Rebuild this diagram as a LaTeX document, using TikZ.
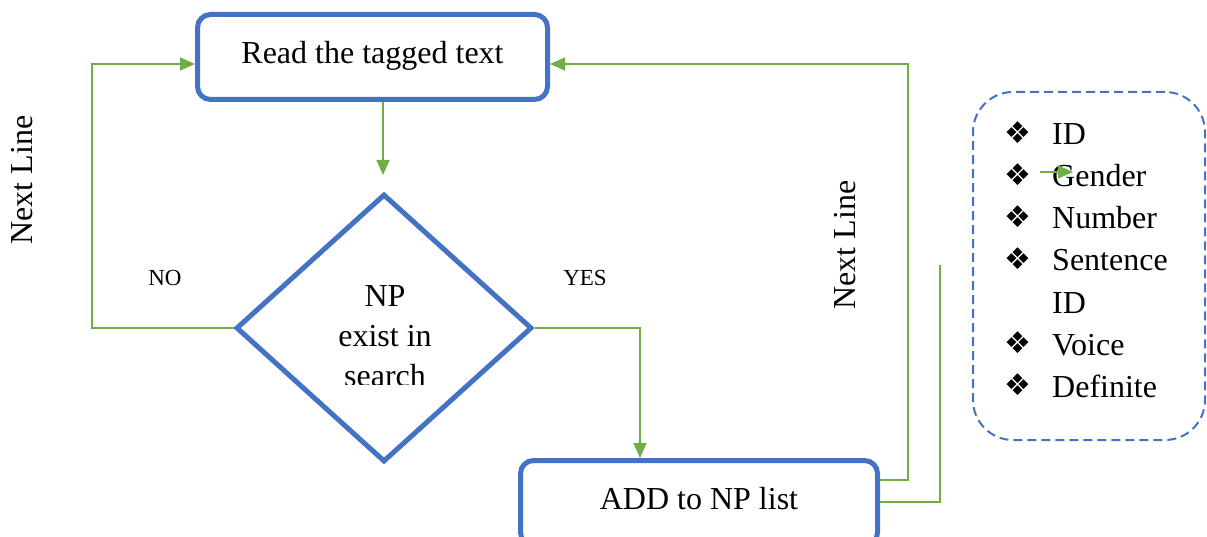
\documentclass[tikz,border=0pt]{standalone}
\usepackage{fontspec}
\setmainfont{Liberation Serif}
\newfontfamily\symfont{DejaVu Sans}
\usetikzlibrary{shapes.geometric,arrows.meta}
\definecolor{boxblue}{HTML}{4472C4}
\definecolor{linegreen}{HTML}{70AD47}
\tikzset{
  procbox/.style={draw=boxblue, line width=5pt, rounded corners=13pt, inner sep=0pt},
  decbox/.style={draw=boxblue, line width=5pt, diamond, inner sep=0pt},
  conn/.style={draw=linegreen, line width=1.5pt},
  arr/.style={conn, -{Triangle[length=15pt,width=13pt]}},
  maintext/.style={font=\fontsize{32}{40}\selectfont},
  smalltext/.style={font=\fontsize{23}{28}\selectfont},
  bullet/.style={font=\symfont\fontsize{30}{32}\selectfont, inner sep=0pt},
  item/.style={font=\fontsize{32}{40}\selectfont, anchor=base west, inner sep=0pt},
  notebox/.style={draw=boxblue, line width=2pt, dash pattern=on 9pt off 5pt, rounded corners=40pt},
}
\begin{document}
\begin{tikzpicture}[x=1pt,y=-1pt]
\useasboundingbox (0,0) rectangle (1207,537);
\clip (0,0) rectangle (1207,537);
% boxes
\node[procbox, minimum width=350pt, minimum height=85pt, maintext] (read) at (372.5,57) {\raisebox{10pt}{Read the tagged text}};
\node[decbox, minimum width=296pt, minimum height=268pt] (dia) at (384,328) {};
\begin{scope}
  \clip (300,250) rectangle (470,384);
  \node[maintext, align=center, inner sep=0pt] (diatext) at (385,336) {NP\\exist in\\search};
\end{scope}
\node[procbox, minimum width=357pt, minimum height=85pt, maintext] (add) at (699,503) {\raisebox{10pt}{ADD to NP list}};
\node[notebox, minimum width=232pt, minimum height=348pt] (note) at (1089,266) {};
% labels
\node[smalltext] (no) at (165,278) {NO};
\node[smalltext] (yes) at (585,278) {YES};
\node[maintext, rotate=90] (nl1) at (22,180) {Next Line};
\node[maintext, rotate=90] (nl2) at (845,245) {Next Line};
% connectors
\coordinate (c1) at (383,175);
\draw[arr] (read.south -| c1) -- (c1);
\coordinate (c2) at (92,64);
\draw[arr] (dia.west) -| (c2) -- (c2 -| read.west);
\coordinate (c3) at (640,458);
\draw[arr] (dia.east) -| (c3);
\coordinate (c4) at (908,480);
\draw[arr] (c4 -| add.east) -- (c4) |- ([yshift=-7pt]read.east);
\coordinate (c5) at (940,265);
\coordinate (c6) at (940,502);
\draw[conn] (c6 -| add.east) -- (c6) -- (c5);
% list
\foreach \t/\y [count=\i] in {ID/145, Gender/187, Number/229, Sentence/271, Voice/355, Definite/397}{
  \node[bullet] (b\i) at (1018,\y-12) {❖};
  \node[item] (it\i) at (1052,\y) {\t};
}
\node[item] (it7) at (1052,313) {ID};
\coordinate (g1) at (1040,172);
\coordinate (g2) at (1073,172);
\draw[arr] (g1) -- (g2);
\end{tikzpicture}
\end{document}
